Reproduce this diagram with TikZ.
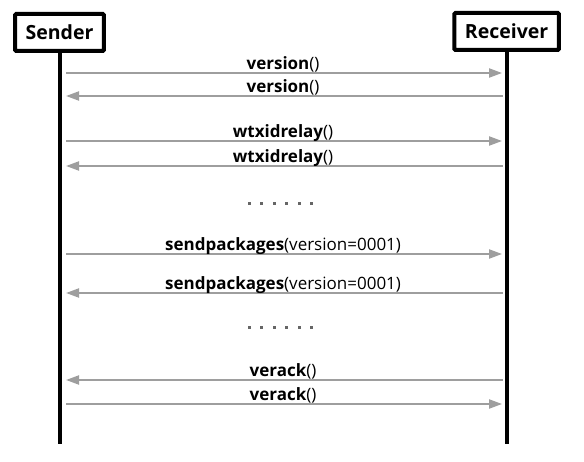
\documentclass[tikz,border=0pt]{standalone}
\usepackage{fontspec}
\setmainfont{Open Sans}
\usetikzlibrary{positioning, arrows.meta}
\tikzset{
	actor/.style={draw, rectangle, line width=4pt, rounded corners=1pt, inner xsep=10.5pt, minimum height=37pt, font=\fontsize{19.5}{22}\selectfont\bfseries},
	lifeline/.style={line width=4pt},
	msg/.style={line width=2pt, draw=black!38, -{Triangle[length=13pt, width=9pt]}},
	% arrows sender -> receiver and back
	tosend/.style={msg, shorten <=6.5pt, shorten >=4.5pt},
	toback/.style={msg, shorten <=4pt, shorten >=6.5pt},
	msglabel/.style={midway, anchor=base, yshift=3.5pt, inner sep=0pt, text=black, font=\fontsize{17}{20}\selectfont},
	gapdot/.style={rectangle, fill=black!60, inner sep=0pt, minimum size=3pt},
}
\begin{document}
\begin{tikzpicture}[x=1pt, y=-1pt]
	\useasboundingbox (0,0) rectangle (584,462);
	
	\node (sender) [actor] at (59.5,32.5) {Sender};
	\node (receiver) [actor, right=346.5pt of sender, yshift=1pt] {Receiver};
	
	\coordinate (sender-end) at (sender.center |- 0,443.5);
	\coordinate (receiver-end) at (receiver.center |- 0,443.5);
	
	\draw [lifeline] (sender) -- (sender-end);
	\draw [lifeline] (receiver) -- (receiver-end);
	
	% one coordinate on each lifeline per message
	\foreach \y [count=\i] in {73,96,141,166,254,293,380,404} {
		\coordinate (s\i) at (sender.center |- 0,\y);
		\coordinate (r\i) at (receiver.center |- 0,\y);
	}
	
	\draw [tosend] (s1) -- (r1) node [msglabel] {\textbf{version}()};
	\draw [toback] (r2) -- (s2) node [msglabel] {\textbf{version}()};
	
	\draw [tosend] (s3) -- (r3) node [msglabel] {\textbf{wtxidrelay}()};
	\draw [toback] (r4) -- (s4) node [msglabel] {\textbf{wtxidrelay}()};
	
	\foreach \i in {0,...,5}
		\node (gapa\i) [gapdot] at (249.3+12.5*\i,204) {};
	
	\draw [tosend] (s5) -- (r5) node [msglabel] {\textbf{sendpackages}(version=0001)};
	\draw [toback] (r6) -- (s6) node [msglabel] {\textbf{sendpackages}(version=0001)};
	
	\foreach \i in {0,...,5}
		\node (gapb\i) [gapdot] at (249.3+12.5*\i,328) {};
	
	\draw [toback] (r7) -- (s7) node [msglabel] {\textbf{verack}()};
	\draw [tosend] (s8) -- (r8) node [msglabel] {\textbf{verack}()};
	
\end{tikzpicture}
\end{document}
